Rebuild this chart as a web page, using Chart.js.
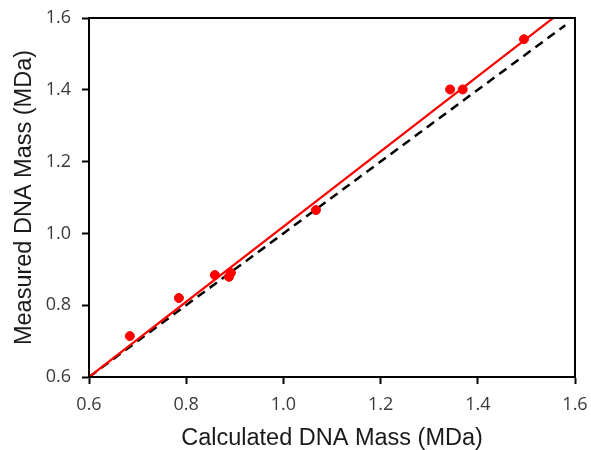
<!DOCTYPE html>
<html>
<head>
<meta charset="utf-8">
<script src="https://cdn.jsdelivr.net/npm/chart.js@4/dist/chart.umd.min.js"></script>
<style>
  html, body { margin: 0; padding: 0; background: #fff; }
  #wrap { width: 591px; height: 450px; }
</style>
</head>
<body>
<div id="wrap"><canvas id="massChart" width="591" height="450"></canvas></div>
<script>
// measured vs calculated DNA mass (MDa)
const calcMass = [0.684, 0.785, 0.859, 0.888, 0.892, 1.067, 1.343, 1.369, 1.495];
const measMass = [0.714, 0.820, 0.884, 0.879, 0.890, 1.065, 1.401, 1.401, 1.541];

// least squares fit line endpoints and the 1:1 reference line
const fitX = [0.6, 1.6];
const fitY = [0.6, 1.647];
const unityX = [0.6, 1.58];
const unityY = [0.6, 1.58];

const axisTicks = [0.6, 0.8, 1.0, 1.2, 1.4, 1.6];

const toPoints = (xs, ys) => xs.map((x, i) => ({ x: x, y: ys[i] }));

// box around the plot area
const frame = {
  id: "frame",
  afterDraw(chart) {
    const { ctx, chartArea: a } = chart;
    ctx.save();
    ctx.strokeStyle = "#000";
    ctx.lineWidth = 2;
    ctx.strokeRect(a.left, a.top, a.right - a.left, a.bottom - a.top);
    ctx.restore();
  }
};

const tickFont = { family: "'Open Sans', sans-serif", size: 18 };
const titleFont = { family: "'Liberation Sans', Arial, sans-serif", size: 23.5 };

function axis(title, size, side) {
  return {
    type: "linear",
    min: 0.6,
    max: 1.6,
    afterBuildTicks: s => { s.ticks = axisTicks.map(v => ({ value: v })); },
    afterFit: s => {
      if (side === "x") s.height = size; else s.width = size;
      // edge labels may overhang, keep the plot area fixed anyway
      s.paddingLeft = s.paddingRight = s.paddingTop = s.paddingBottom = 0;
    },
    ticks: {
      color: "#3a3a3a",
      font: tickFont,
      padding: side === "x" ? 10 : 11,
      callback: v => Number(v).toFixed(1)
    },
    grid: { drawOnChartArea: false, tickLength: 7, tickWidth: 2, color: "#000" },
    border: { color: "#000", width: 2 },
    title: {
      display: true,
      text: title,
      color: "#1a1a1a",
      font: titleFont,
      padding: side === "x" ? { top: 0, bottom: -3 } : { top: 10, bottom: 0 }
    }
  };
}

new Chart(document.getElementById("massChart"), {
  type: "scatter",
  data: {
    datasets: [
      {
        label: "1:1",
        type: "line",
        data: toPoints(unityX, unityY),
        borderColor: "#000",
        borderWidth: 2.5,
        borderDash: [9, 6],
        pointRadius: 0,
        fill: false,
        order: 3
      },
      {
        label: "Fit",
        type: "line",
        data: toPoints(fitX, fitY),
        borderColor: "#ff0000",
        borderWidth: 2.2,
        pointRadius: 0,
        fill: false,
        order: 2
      },
      {
        label: "DNA",
        data: toPoints(calcMass, measMass),
        backgroundColor: "#ff0000",
        borderColor: "#ff0000",
        pointRadius: 4.5,
        order: 1
      }
    ]
  },
  options: {
    responsive: false,
    animation: false,
    layout: { padding: { top: 18, right: 16, left: 0, bottom: 0 } },
    plugins: { legend: { display: false }, tooltip: { enabled: false } },
    scales: {
      x: axis("Calculated DNA Mass (MDa)", 73, "x"),
      y: axis("Measured DNA Mass (MDa)", 89, "y")
    }
  },
  plugins: [frame]
});
</script>
</body>
</html>
